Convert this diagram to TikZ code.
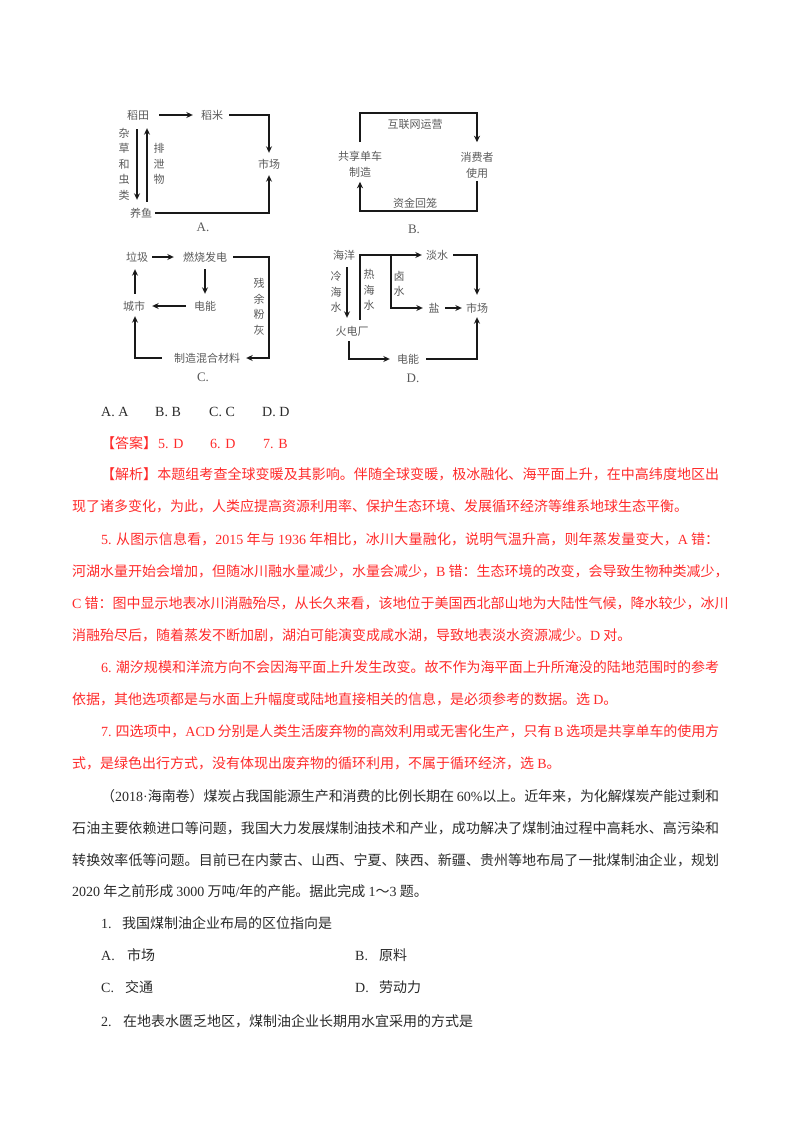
\documentclass[tikz,border=0pt]{standalone}
\usepackage{fontspec}
\setmainfont{Noto Sans CJK SC}
\newfontfamily\lat{Liberation Serif}
\usetikzlibrary{arrows.meta}
\newcommand\La[1]{{\lat #1}}
\newcommand\Jl[2]{\parbox[b]{#1}{\XeTeXlinebreaklocale "zh"\XeTeXlinebreakskip=0pt plus 3pt minus 0.2pt\parindent=0pt\parfillskip=0pt\leftskip=0pt\rightskip=0pt\tolerance=9999\hbadness=10000\hfuzz=3pt #2}}
\newcommand\Pre[2]{\makebox[#1][l]{\La{#2}}}
\definecolor{rd}{HTML}{FF2A2A}
\definecolor{bk}{HTML}{2A2A2A}
\definecolor{lb}{HTML}{5A5A5A}
\tikzset{
 lab/.style={inner sep=0pt,text=lb,font=\fontsize{11}{11}\selectfont,text height=9.5pt,text depth=1.5pt},
 multi/.style={inner sep=0pt,text=lb,font=\fontsize{11}{16}\selectfont,align=center},
 stack/.style={inner sep=0pt,text=lb,font=\fontsize{11}{15.5}\selectfont,align=center},
 letter/.style={inner sep=0pt,text=lb,font=\lat\fontsize{13}{13}\selectfont},
 arr/.style={line width=1.9pt,black!90,-{Stealth[length=6.5pt,width=6pt]}},
 arrb/.style={line width=2.5pt,black!90,-{Stealth[length=6.5pt,width=6pt]}},
 bodyb/.style={anchor=base west,inner sep=0pt,text=bk,font=\fontsize{14}{14}\selectfont},
 bodyr/.style={anchor=base west,inner sep=0pt,text=rd,font=\fontsize{14}{14}\selectfont},
}
\begin{document}
\begin{tikzpicture}[x=1pt,y=-1pt]
\useasboundingbox (0,0) rectangle (800,1132);
% A
\node[lab] (a1) at (138,115) {稻田};
\node[lab] (a2) at (212,115) {稻米};
\node[lab] (a3) at (269,164) {市场};
\node[lab] (a4) at (141,213) {养鱼};
\node[stack] (a5) at (124,164) {杂\\草\\和\\虫\\类};
\node[stack] (a6) at (159,164) {排\\泄\\物};
\node[letter] (a7) at (203,227) {A.};
\draw[arr,shorten <=10pt,shorten >=8pt] (a1) -- (a2);
\draw[arr,shorten <=6pt,shorten >=5.5pt] (a2.east) -| (a3.north);
\draw[arr,shorten <=3pt,shorten >=5.5pt] (a4.east) -| (a3.south);
\draw[arr,shorten <=8.5pt,shorten >=7.5pt] ([xshift=-1pt]a1.south) -- ([xshift=-4pt]a4.north);
\draw[arr,shorten <=5.5pt,shorten >=7.5pt] ([xshift=6pt]a4.north) -- ([xshift=9pt]a1.south);
% B
\node[multi] (b1) at (360,164) {共享单车\\制造};
\node[multi] (b2) at (477,165) {消费者\\使用};
\node[lab] (b3) at (415,124) {互联网运营};
\node[lab] (b4) at (415,203) {资金回笼};
\node[letter] (b5) at (414,229) {B.};
\coordinate (bt) at (415,113);
\coordinate (bb) at (415,211);
\draw[arrb,shorten <=8.5pt,shorten >=9.5pt] (b1.north) |- (bt) -| (b2.north);
\draw[arrb,shorten <=2.5pt,shorten >=4.5pt] (b2.south) |- (bb) -| (b1.south);
% C
\node[lab] (c1) at (137,257) {垃圾};
\node[lab] (c2) at (205,257) {燃烧发电};
\node[lab] (c3) at (205,306) {电能};
\node[lab] (c4) at (134,306) {城市};
\node[lab] (c5) at (207,358) {制造混合材料};
\node[stack] (c6) at (259,307) {残\\余\\粉\\灰};
\node[letter] (c7) at (203,377) {C.};
\coordinate (cr) at (269,300);
\draw[arr,shorten <=4pt,shorten >=9pt] (c1) -- (c2);
\draw[arr,shorten <=6pt,shorten >=6pt] (c2.east) -| (cr) |- (c5.east);
\draw[arr,shorten <=6.5pt,shorten >=6.5pt] (c2.south) -- (c3.north);
\draw[arr,shorten <=8pt,shorten >=7pt] (c3.west) -- (c4.east);
\draw[arr,shorten <=6.5pt,shorten >=6.5pt] ([xshift=1pt]c4.north) -- ([xshift=-2pt]c1.south);
\draw[arr,shorten <=12pt,shorten >=4.5pt] (c5.west) -| ([xshift=1pt]c4.south);
% D
\node[lab] (d1) at (344,255) {海洋};
\node[lab] (d2) at (437,255) {淡水};
\node[lab] (d3) at (434,308) {盐};
\node[lab] (d4) at (477,308) {市场};
\node[lab] (d5) at (352,331) {火电厂};
\node[lab] (d6) at (408,359) {电能};
\node[stack] (d7) at (336,292) {冷\\海\\水};
\node[stack] (d8) at (369,290) {热\\海\\水};
\node[stack] (d9) at (399,284) {卤\\水};
\node[letter] (d10) at (413,378) {D.};
\coordinate (dj) at (391,255);
\draw[arr,shorten <=6.5pt,shorten >=7.5pt] ([xshift=3pt]d1.south) -- ([xshift=-5pt]d5.north);
\draw[arr,shorten <=5.5pt,shorten >=4pt] ([xshift=8pt]d5.north) |- (d2.west);
\draw[arr,shorten >=5.5pt] (dj) |- (d3.west);
\draw[arr,shorten <=5pt,shorten >=7.5pt] (d2.east) -| (d4.north);
\draw[arr,shorten <=5.5pt,shorten >=4pt] (d3.east) -- (d4.west);
\draw[arr,shorten <=4.5pt,shorten >=7pt] ([xshift=-3pt]d5.south) |- (d6.west);
\draw[arr,shorten <=7pt,shorten >=3.5pt] (d6.east) -| (d4.south);
% body
\node[bodyb] (t01) at (101,416) {\La{A. A}};
\node[bodyb] (t02) at (155,416) {\La{B. B}};
\node[bodyb] (t03) at (209,416) {\La{C. C}};
\node[bodyb] (t04) at (262,416) {\La{D. D}};
\node[bodyr] (t05) at (101,448) {【答案】};
\node[bodyr] (t06) at (158,448) {\La{5. D}};
\node[bodyr] (t07) at (210,448) {\La{6. D}};
\node[bodyr] (t08) at (263,448) {\La{7. B}};
\node[bodyr] (t09) at (101,479) {\Jl{618pt}{【解析】本题组考查全球变暖及其影响。伴随全球变暖，极冰融化、海平面上升，在中高纬度地区出}};
\node[bodyr] (t10) at (72,511) {现了诸多变化，为此，人类应提高资源利用率、保护生态环境、发展循环经济等维系地球生态平衡。};
\node[bodyr] (t11) at (101,544) {\Jl{618pt}{\La{5.} 从图示信息看，\La{2015} 年与 \La{1936} 年相比，冰川大量融化，说明气温升高，则年蒸发量变大，\La{A} 错：}};
\node[bodyr] (t12) at (72,576) {河湖水量开始会增加，但随冰川融水量减少，水量会减少，\La{B} 错：生态环境的改变，会导致生物种类减少，};
\node[bodyr] (t13) at (72,608) {\La{C} 错：图中显示地表冰川消融殆尽，从长久来看，该地位于美国西北部山地为大陆性气候，降水较少，冰川};
\node[bodyr] (t14) at (72,640) {消融殆尽后，随着蒸发不断加剧，湖泊可能演变成咸水湖，导致地表淡水资源减少。\La{D} 对。};
\node[bodyr] (t15) at (101,672) {\Jl{618pt}{\La{6.} 潮汐规模和洋流方向不会因海平面上升发生改变。故不作为海平面上升所淹没的陆地范围时的参考}};
\node[bodyr] (t16) at (72,704) {依据，其他选项都是与水面上升幅度或陆地直接相关的信息，是必须参考的数据。选 \La{D}。};
\node[bodyr] (t17) at (101,736) {\Jl{618pt}{\La{7.} 四选项中，\La{ACD} 分别是人类生活废弃物的高效利用或无害化生产，只有 \La{B} 选项是共享单车的使用方}};
\node[bodyr] (t18) at (72,768) {式，是绿色出行方式，没有体现出废弃物的循环利用，不属于循环经济，选 \La{B}。};
\node[bodyb] (t19) at (101,801) {\Jl{618pt}{（\La{2018·}海南卷）煤炭占我国能源生产和消费的比例长期在 \La{60\%}以上。近年来，为化解煤炭产能过剩和}};
\node[bodyb] (t20) at (72,833) {\Jl{647pt}{石油主要依赖进口等问题，我国大力发展煤制油技术和产业，成功解决了煤制油过程中高耗水、高污染和}};
\node[bodyb] (t21) at (72,865) {\Jl{647pt}{转换效率低等问题。目前已在内蒙古、山西、宁夏、陕西、新疆、贵州等地布局了一批煤制油企业，规划}};
\node[bodyb] (t22) at (72,896) {\La{2020} 年之前形成 \La{3000} 万吨\La{/}年的产能。据此完成 \La{1}～\La{3} 题。};
\node[bodyb] (t23) at (101,928) {\Pre{21pt}{1.}我国煤制油企业布局的区位指向是};
\node[bodyb] (t24) at (101,960) {\Pre{26pt}{A.}市场};
\node[bodyb] (t25) at (355,960) {\Pre{24pt}{B.}原料};
\node[bodyb] (t26) at (101,992) {\Pre{24pt}{C.}交通};
\node[bodyb] (t27) at (355,992) {\Pre{24pt}{D.}劳动力};
\node[bodyb] (t28) at (101,1026) {\Pre{22pt}{2.}在地表水匮乏地区，煤制油企业长期用水宜采用的方式是};
\end{tikzpicture}
\end{document}
